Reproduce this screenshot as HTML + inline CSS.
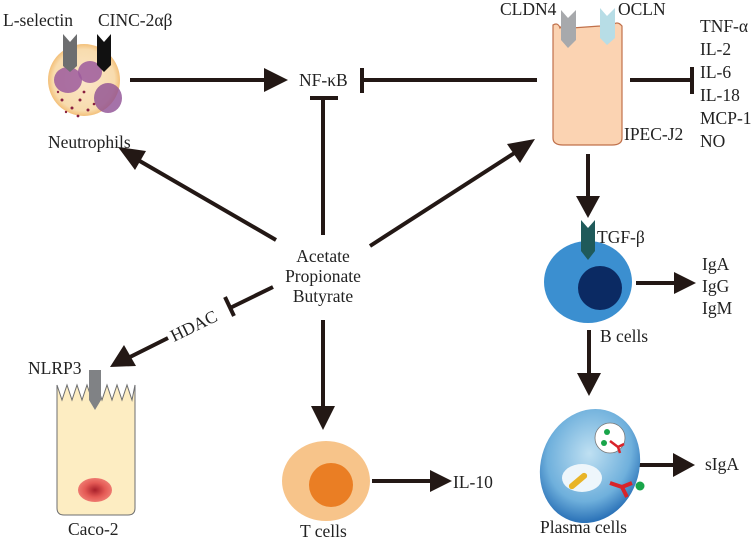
<!DOCTYPE html>
<html><head><meta charset="utf-8"><style>
html,body{margin:0;padding:0;background:#fff;width:754px;height:542px;overflow:hidden}
svg{display:block}
text{font-family:"Liberation Serif",serif;font-size:17.5px;fill:#222}
</style></head><body>
<svg width="754" height="542" viewBox="0 0 754 542" xmlns="http://www.w3.org/2000/svg">
<defs>
<radialGradient id="neu" cx="0.5" cy="0.5" r="0.5"><stop offset="0" stop-color="#fbe6c8"/><stop offset="0.85" stop-color="#f8dcae"/><stop offset="1" stop-color="#f3c07a"/></radialGradient>
<radialGradient id="pl" cx="0.45" cy="0.4" r="0.6"><stop offset="0" stop-color="#bfe0f2"/><stop offset="0.7" stop-color="#6fb0dc"/><stop offset="1" stop-color="#2c73b8"/></radialGradient>
<radialGradient id="nuc" cx="0.5" cy="0.5" r="0.5"><stop offset="0" stop-color="#a8202a"/><stop offset="0.6" stop-color="#e45a55"/><stop offset="1" stop-color="#ee7a70"/></radialGradient>
</defs>
<g stroke="#231815" stroke-width="4" fill="none">
<line x1="130" y1="80" x2="266" y2="80"/>
<line x1="364" y1="80" x2="537" y2="80"/>
<line x1="362" y1="68" x2="362" y2="93"/>
<line x1="323" y1="98" x2="323" y2="235"/>
<line x1="310" y1="98" x2="338" y2="98"/>
<line x1="630" y1="80" x2="690" y2="80"/>
<line x1="692" y1="67" x2="692" y2="94"/>
<line x1="276" y1="240" x2="138" y2="160"/>
<line x1="370" y1="246" x2="516" y2="152"/>
<line x1="273" y1="287" x2="230" y2="308"/>
<line x1="225" y1="297" x2="234" y2="316"/>
<line x1="168" y1="338" x2="128" y2="358"/>
<line x1="323" y1="320" x2="323" y2="410"/>
<line x1="372" y1="481" x2="432" y2="481"/>
<line x1="588" y1="154" x2="588" y2="198"/>
<line x1="636" y1="283" x2="678" y2="283"/>
<line x1="589" y1="330" x2="589" y2="376"/>
<line x1="636" y1="465" x2="676" y2="465"/>
</g>
<g fill="#231815">
<polygon points="288,80 264,68 264,92"/>
<polygon points="118,147 146,151 135,170"/>
<polygon points="535,139 507,144 520,163"/>
<polygon points="110,367 124,345 136,366"/>
<polygon points="323,430 311,406 335,406"/>
<polygon points="452,481 430,470 430,492"/>
<polygon points="588,218 576,196 600,196"/>
<polygon points="696,283 674,272 674,294"/>
<polygon points="589,396 577,373 601,373"/>
<polygon points="695,465 673,453 673,477"/>
</g>
<circle cx="84" cy="80" r="36" fill="url(#neu)"/>
<ellipse cx="68" cy="80" rx="14" ry="13" fill="#9c5a9c" opacity="0.85"/>
<ellipse cx="90" cy="72" rx="12" ry="11" fill="#9c5a9c" opacity="0.85"/>
<ellipse cx="108" cy="98" rx="14" ry="15" fill="#8e4f94" opacity="0.8"/>
<g fill="#8a2040">
<circle cx="62" cy="100" r="1.5"/><circle cx="72" cy="108" r="1.5"/><circle cx="80" cy="100" r="1.5"/><circle cx="88" cy="110" r="1.5"/><circle cx="58" cy="92" r="1.2"/><circle cx="84" cy="92" r="1.4"/><circle cx="94" cy="104" r="1.3"/><circle cx="66" cy="112" r="1.2"/><circle cx="78" cy="116" r="1.4"/>
</g>
<polygon points="63,34 77,34 77,66 70,72 63,66" fill="#6d6e70"/>
<polygon points="97,34 111,34 111,65 104,72 97,65" fill="#111"/>
<polygon points="63,34 70,42 77,34" fill="#fff"/>
<polygon points="97,34 104,42 111,34" fill="#fff"/>
<text x="3" y="26">L-selectin</text>
<text x="98" y="26">CINC-2αβ</text>
<text x="48" y="148">Neutrophils</text>
<text x="299" y="86">NF-κB</text>
<path d="M553,25 Q558,22 560,28 Q566,20 572,28 L600,26 Q606,20 612,26 Q617,20 622,26 L622,138 Q622,145 612,145 L563,145 Q553,145 553,138 Z" fill="#fbd3b2" stroke="#c0704a" stroke-width="1.2"/>
<polygon points="561,10 576,10 576,40 568,48 561,40" fill="#a7a9ac"/>
<polygon points="561,10 568,18 576,10" fill="#fff"/>
<polygon points="600,8 615,8 615,38 607,45 600,38" fill="#b7dde6"/>
<polygon points="600,8 607,16 615,8" fill="#fff"/>
<text x="500" y="15">CLDN4</text>
<text x="618" y="15">OCLN</text>
<text x="624" y="140">IPEC-J2</text>
<text x="700" y="32">TNF-α</text>
<text x="700" y="55">IL-2</text>
<text x="700" y="78">IL-6</text>
<text x="700" y="101">IL-18</text>
<text x="700" y="124">MCP-1</text>
<text x="700" y="147">NO</text>
<text x="323" y="262" text-anchor="middle">Acetate</text>
<text x="323" y="282" text-anchor="middle">Propionate</text>
<text x="323" y="302" text-anchor="middle">Butyrate</text>
<text x="0" y="0" transform="translate(174,342) rotate(-26)">HDAC</text>
<path d="M57,385 L62,400 L67,385 L72,400 L77,385 L82,400 L87,385 L92,400 L97,385 L102,400 L107,385 L112,400 L117,385 L122,400 L127,385 L132,400 L135,385 L135,508 Q135,515 128,515 L64,515 Q57,515 57,508 Z" fill="#fdedc2" stroke="#6d6e70" stroke-width="1"/>
<polygon points="89,370 101,370 101,400 95,410 89,400" fill="#808285"/>
<ellipse cx="95" cy="490" rx="17" ry="12" fill="url(#nuc)"/>
<text x="28" y="374">NLRP3</text>
<text x="68" y="535">Caco-2</text>
<ellipse cx="326" cy="481" rx="44" ry="40" fill="#f7c48a"/>
<circle cx="331" cy="485" r="22" fill="#ea7e24"/>
<text x="300" y="537">T cells</text>
<text x="453" y="488">IL-10</text>
<ellipse cx="588" cy="282" rx="44" ry="41" fill="#3b8fd0"/>
<circle cx="600" cy="288" r="22" fill="#0b2a63"/>
<polygon points="581,220 595,220 595,251 588,260 581,251" fill="#1f5a5a"/>
<polygon points="581,220 588,228 595,220" fill="#fff"/>
<text x="597" y="243">TGF-β</text>
<text x="702" y="270">IgA</text>
<text x="702" y="292">IgG</text>
<text x="702" y="314">IgM</text>
<text x="600" y="342">B cells</text>
<ellipse cx="590" cy="466" rx="49" ry="58" transform="rotate(20 590 466)" fill="url(#pl)"/>
<circle cx="610" cy="438" r="15" fill="#fff" stroke="#777" stroke-width="0.8"/>
<ellipse cx="582" cy="478" rx="20" ry="14" fill="#eef6fb"/>
<rect x="567" y="478" width="22" height="6" rx="3" fill="#e8b427" transform="rotate(-40 578 481)"/>
<path d="M610,441 l8,6 M618,447 l6,-3 M618,447 l2,6" stroke="#d8232a" stroke-width="2.5"/>
<circle cx="607" cy="432" r="3" fill="#19a54a"/><circle cx="604" cy="443" r="3" fill="#19a54a"/>
<path d="M610,483 l12,4 M622,487 l10,-4 M622,487 l5,10" stroke="#d8232a" stroke-width="4"/>
<circle cx="640" cy="486" r="4.5" fill="#19a54a"/>
<text x="705" y="470">sIgA</text>
<text x="540" y="533">Plasma cells</text>
</svg>
</body></html>
